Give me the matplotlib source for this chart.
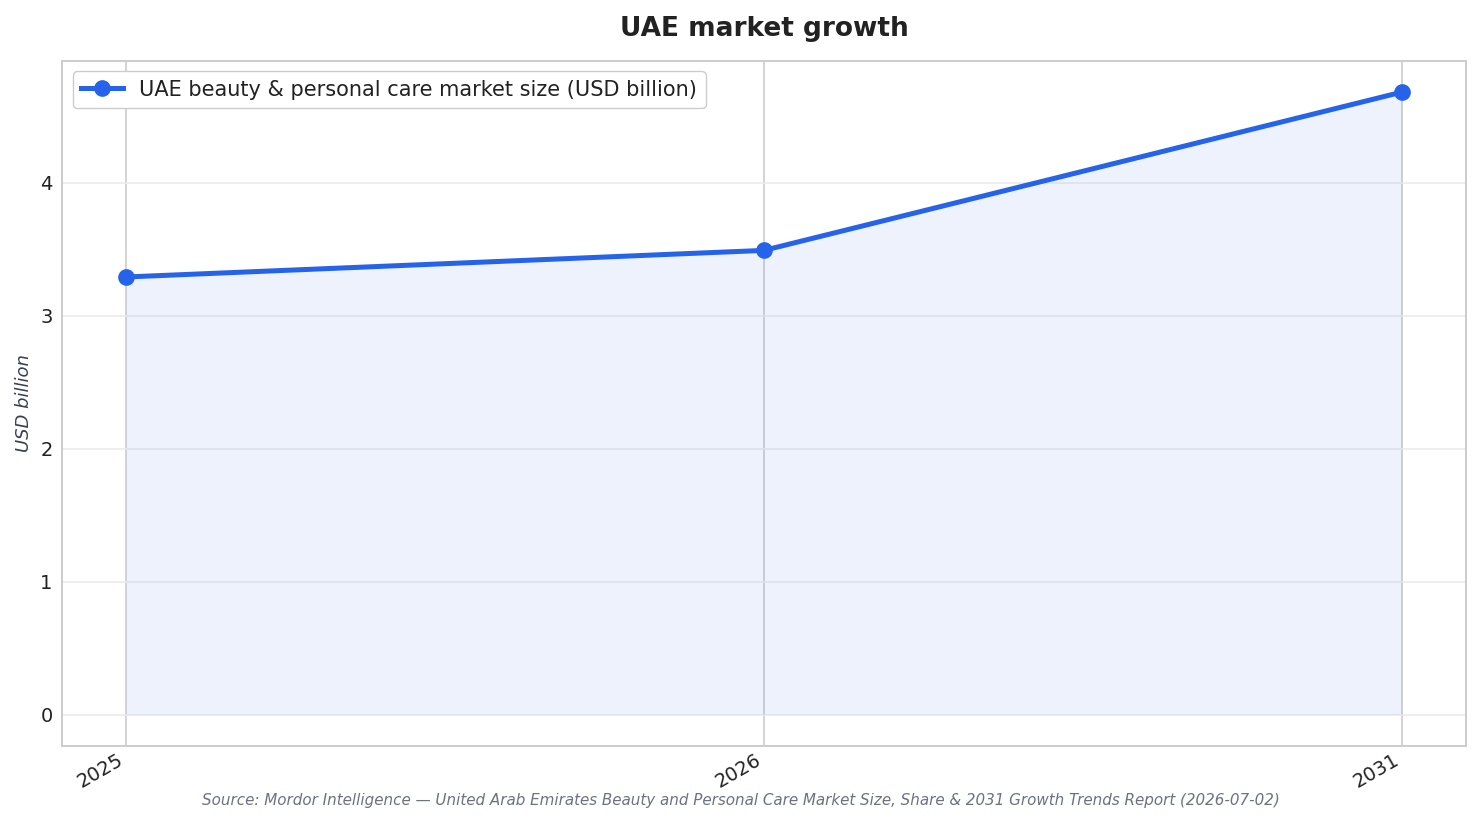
import matplotlib
matplotlib.use("Agg")
import matplotlib.pyplot as plt

years = ["2025", "2026", "2031"]
market_size = [3.29, 3.49, 4.68]
series_label = "UAE beauty & personal care market size (USD billion)"
title = "UAE market growth"
y_label = "USD billion"
source = ("Source: Mordor Intelligence \u2014 United Arab Emirates Beauty and Personal Care "
          "Market Size, Share & 2031 Growth Trends Report (2026-07-02)")

plt.rcParams['font.family'] = ['DejaVu Sans']
color = '#2563eb'

fig, ax = plt.subplots(figsize=(14.82, 8.24), dpi=100)
x = list(range(len(years)))

ax.fill_between(x, market_size, color=color, alpha=0.08, linewidth=0)
ax.plot(x, market_size, '-o', color=color, linewidth=3.6, markersize=11, label=series_label)

ax.set_xticks(x)
ax.set_xticklabels(years)
ax.tick_params(axis='both', labelsize=14, length=0, colors='#222222')
ax.tick_params(axis='y', pad=7)
plt.setp(ax.get_xticklabels(), rotation=30, ha='right', rotation_mode='default')

ax.grid(axis='x', color='#cccccc', linewidth=1.2)
ax.grid(axis='y', color='#ebebeb', linewidth=1.2)
ax.set_axisbelow(True)
for s in ax.spines.values():
    s.set_color('#cccccc')
    s.set_linewidth(1.4)

ax.set_title(title, fontsize=19, fontweight='bold', color='#222222', pad=18)
ax.set_ylabel(y_label, fontsize=13, style='italic', color='#374151', labelpad=5)
leg = ax.legend(loc='upper left', fontsize=15, frameon=True, edgecolor='#cccccc', framealpha=1)
for t in leg.get_texts():
    t.set_color('#222222')

fig.subplots_adjust(left=0.042, right=0.989, top=0.926, bottom=0.095)
fig.text(0.5, 0.028, source, ha='center', va='center', fontsize=10.9, style='italic', color='#6b7280')

fig.savefig('out.png', dpi=100)
